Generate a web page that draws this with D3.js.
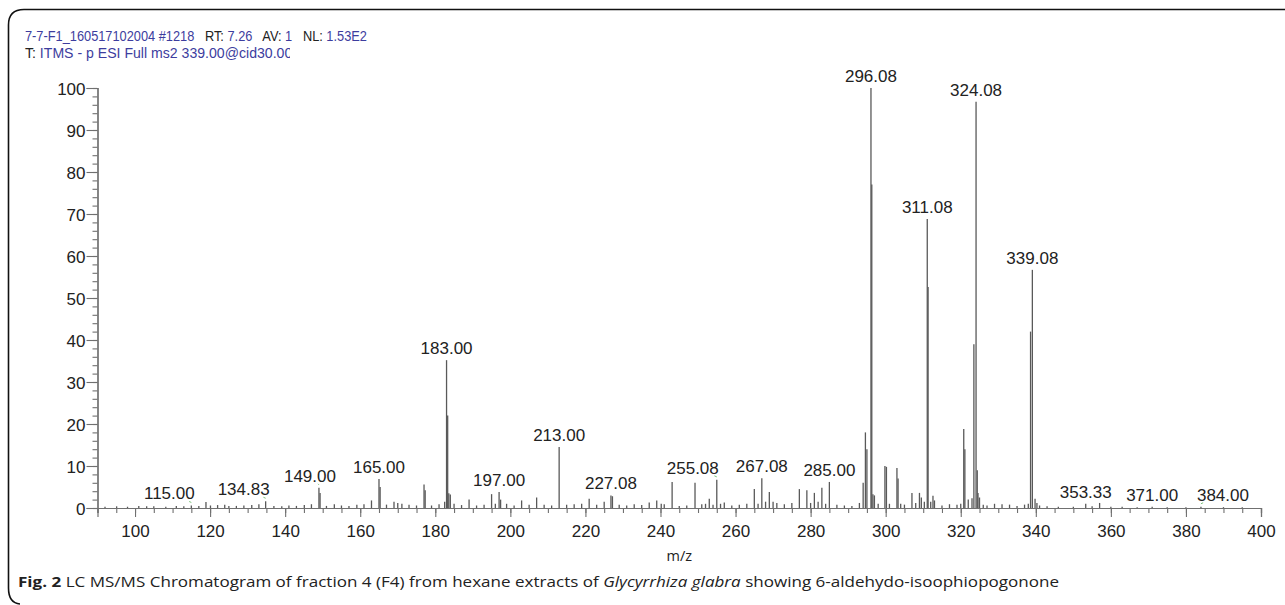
<!DOCTYPE html>
<html><head><meta charset="utf-8">
<script src="https://cdn.jsdelivr.net/npm/d3@7"></script>
<style>
html,body{margin:0;padding:0;background:#fff;}
svg{display:block;}
</style></head>
<body>
<svg id="chart" width="1285" height="605"></svg>
<script>
// ---------------- data ----------------
const peakMz = [
  92.0,95.1,98.0,101.0,103.1,105.0,108.2,111.0,113.0,115.0,117.0,118.9,120.1,122.0,123.9,125.0,127.0,129.0,131.1,133.0,134.8,137.0,139.1,141.0,143.0,145.1,147.0,
  149.0,149.3,151.0,153.1,155.0,157.0,159.1,161.0,163.0,165.0,165.3,167.0,169.0,170.0,171.1,173.0,175.0,177.0,177.3,179.0,181.0,182.5,
  183.0,183.3,183.6,184.0,185.0,187.0,189.0,191.0,193.0,195.0,196.0,197.0,197.4,199.0,201.0,203.0,205.0,207.0,209.0,211.0,
  213.0,215.0,217.0,219.0,221.0,223.0,225.0,226.8,227.2,229.0,231.0,233.0,235.0,237.0,239.0,240.2,241.0,243.1,245.0,247.0,
  249.2,251.0,252.0,253.0,254.0,255.0,256.0,257.0,259.0,261.0,263.0,265.0,266.0,267.0,268.0,269.0,270.0,271.0,273.0,275.0,
  277.0,279.0,280.0,281.0,282.0,283.0,284.0,285.0,287.0,289.0,291.0,293.0,294.0,294.6,295.0,296.08,296.3,296.6,297.0,298.0,
  299.8,300.2,301.0,303.0,303.3,304.0,305.0,307.0,308.0,309.0,309.5,310.3,311.08,311.3,312.0,312.6,313.0,315.0,317.0,319.0,
  320.0,320.8,321.1,322.0,323.0,323.5,324.08,324.4,324.6,325.0,326.0,327.0,329.0,331.0,333.0,335.0,337.0,338.0,338.6,339.08,
  339.8,340.3,341.0,343.0,346.0,350.0,353.3,355.0,357.0,360.0,363.0,367.0,371.0,375.0,380.0,384.0,390.0,395.0
];
const peakIntensity = [
  0.3,0.4,0.3,0.5,0.4,0.4,0.3,0.5,0.4,0.6,0.5,1.4,0.6,0.7,0.8,0.5,0.5,0.6,0.7,0.9,1.6,0.5,0.4,0.6,0.5,0.7,0.9,
  4.8,3.6,0.5,0.9,0.6,0.5,0.8,0.9,1.8,6.9,5.0,0.8,1.5,1.2,1.0,0.8,0.6,5.6,4.2,0.6,0.9,1.5,
  35.2,22.0,3.5,3.2,1.0,0.7,2.0,0.6,0.8,3.3,1.0,3.8,2.0,1.0,0.6,1.8,0.8,2.5,0.8,0.6,
  14.5,0.8,0.9,1.0,2.2,0.8,1.5,3.0,2.8,0.8,0.6,0.9,0.7,1.3,1.8,1.0,0.9,6.2,0.5,0.6,
  6.0,0.9,1.0,2.2,0.8,6.7,1.0,1.3,0.6,0.8,1.0,4.5,1.0,7.1,1.5,3.8,1.5,1.2,0.9,1.2,
  4.5,4.2,1.2,3.6,1.5,4.8,1.0,6.2,0.8,0.6,0.5,1.2,6.0,18.0,14.0,100,77.0,3.3,3.0,1.0,
  10.0,9.8,1.0,9.5,7.0,1.0,0.8,3.6,1.2,3.6,2.5,1.5,68.8,52.6,1.5,2.9,1.8,0.6,0.9,0.8,
  1.0,18.8,14.0,2.0,2.3,39.0,96.7,9.0,3.6,2.5,0.8,0.6,1.0,0.9,0.8,0.5,0.8,1.0,42.0,56.7,
  2.2,1.2,0.6,0.4,0.3,0.3,1.0,0.4,1.2,0.3,0.3,0.2,0.3,0.2,0.2,0.3,0.2,0.2
];
const labelMz   = [115.0,134.8,149.0,165.0,183.0,197.0,213.0,226.8,255.0,267.0,285.0,296.08,311.08,324.08,339.08,353.3,371.0,384.0];
const labelText = ["115.00","134.83","149.00","165.00","183.00","197.00","213.00","227.08","255.08","267.08","285.00","296.08","311.08","324.08","339.08","353.33","371.00","384.00"];
const xMajorTicks = [100,120,140,160,180,200,220,240,260,280,300,320,340,360,380,400];
const yMajorTicks = [0,10,20,30,40,50,60,70,80,90,100];

// layout tweaks for labels that the software moved aside (px)
const labelShift = {"115.00":-22,"134.83":-22,"149.00":-9,"255.08":-24,"384.00":22};

const svg = d3.select("#chart");
const x = d3.scaleLinear().domain([90,400]).range([97.5,1261]);
const y = d3.scaleLinear().domain([0,100]).range([508,88]);
const axisColor = "#707070";
const textColor = "#222";
const blue = "#3d3d9e";
const sans = "Liberation Sans, Arial, sans-serif";

// frame
svg.append("path")
  .attr("d","M1285,9.5 H24 Q8.5,9.5 8.5,25 V588 Q8.5,603 20,604")
  .attr("fill","none").attr("stroke","#111").attr("stroke-width",1.6);

// header
const h1 = svg.append("text").attr("x",25).attr("y",41)
  .style("font-family",sans).style("font-size","15px").style("white-space","pre");
[["7-7-F1_160517102004 #1218",blue],["   RT: ",textColor],["7.26",blue],["   AV: ",textColor],["1",blue],["   NL: ",textColor],["1.53E2",blue]]
  .forEach(([t,c])=>h1.append("tspan").text(t).attr("fill",c).style("white-space","pre"));
const w1 = h1.node().getComputedTextLength();
const sx = 342 / w1;
h1.attr("transform",`translate(25,0) scale(${sx},1) translate(-25,0)`);

svg.append("clipPath").attr("id","hclip").append("rect").attr("x",0).attr("y",44).attr("width",290).attr("height",20);
const h2g = svg.append("g").attr("clip-path","url(#hclip)");
const h2text = h2g.append("text").attr("x",25).attr("y",58)
  .style("font-family",sans).style("font-size","15px").style("white-space","pre")
  .attr("transform","translate(25,0) scale(0.94,1) translate(-25,0)");
h2text.append("tspan").text("T: ").attr("fill",textColor);
h2text.append("tspan").text("ITMS - p ESI Full ms2 339.00@cid30.00").attr("fill",blue);

// axes
const yMinor = d3.axisLeft(y).tickValues(d3.range(0,101,2)).tickSize(5).tickFormat("");
const yMajor = d3.axisLeft(y).tickValues(yMajorTicks).tickSize(11).tickPadding(2);
const xMinor = d3.axisBottom(x).tickValues(d3.range(90,401,5)).tickSize(5).tickFormat("");
const xMajor = d3.axisBottom(x).tickValues(xMajorTicks).tickSize(9);

function styleAxis(g){
  g.select(".domain").attr("stroke",axisColor).attr("stroke-width",1.2).attr("fill","none");
  g.selectAll(".tick line").attr("stroke",axisColor).attr("stroke-width",1.1);
  g.selectAll("text").attr("fill",textColor)
    .style("font-family",sans).style("font-size","17px");
}
svg.append("g").attr("transform",`translate(${x(90)},0)`).call(yMinor).call(styleAxis);
svg.append("g").attr("transform",`translate(${x(90)},0)`).call(yMajor).call(styleAxis)
  .selectAll("text").attr("x",-12).attr("dy","0.36em");
svg.append("g").attr("transform",`translate(0,${y(0)})`).call(xMinor).call(styleAxis);
svg.append("g").attr("transform",`translate(0,${y(0)})`).call(xMajor).call(styleAxis)
  .selectAll("text").attr("y",29).attr("dy",0);

// spectrum sticks
const peaks = peakMz.map((m,i)=>({mz:m,v:peakIntensity[i]}));
svg.append("g").selectAll("line").data(peaks).join("line")
  .attr("x1",d=>x(d.mz)).attr("x2",d=>x(d.mz))
  .attr("y1",y(0)).attr("y2",d=>y(d.v))
  .attr("stroke","#595959").attr("stroke-width",1.3);

// peak labels
const labels = labelMz.map((m,i)=>{
  const best = peaks.reduce((a,b)=>Math.abs(b.mz-m)<Math.abs(a.mz-m)?b:a);
  return {mz:m, v:best.v, t:labelText[i], dx:labelShift[labelText[i]]||0};
});
const lg = svg.append("g");
labels.forEach(d=>{
  const px = x(d.mz), py = y(d.v) - 6;
  if(d.dx){
    lg.append("line").attr("x1",px+d.dx*0.1).attr("x2",px)
      .attr("y1",py+2).attr("y2",py+3)
      .attr("stroke","#7cc47c").attr("stroke-width",1);
  }
  lg.append("text").attr("x",px+d.dx).attr("y",py).attr("text-anchor","middle")
    .attr("fill",textColor)
    .style("font-family",sans).style("font-size","17px")
    .text(d.t);
});

// x axis title
svg.append("text").attr("x",(x(90)+x(400))/2).attr("y",561).attr("text-anchor","middle")
  .attr("fill",textColor).style("font-family","Open Sans, sans-serif").style("font-size","14.5px").text("m/z");

// caption
const cap = svg.append("text").attr("x",18).attr("y",587).attr("fill","#222")
  .style("font-family","Open Sans, sans-serif").style("font-size","15px");
cap.append("tspan").text("Fig. 2").style("font-weight","bold");
cap.append("tspan").text(" LC MS/MS Chromatogram of fraction 4 (F4) from hexane extracts of ");
cap.append("tspan").text("Glycyrrhiza glabra").style("font-style","italic");
cap.append("tspan").text(" showing 6-aldehydo-isoophiopogonone");
const cw = cap.node().getComputedTextLength();
cap.attr("transform",`translate(18,0) scale(${1042/cw},1) translate(-18,0)`);
</script>
</body></html>
